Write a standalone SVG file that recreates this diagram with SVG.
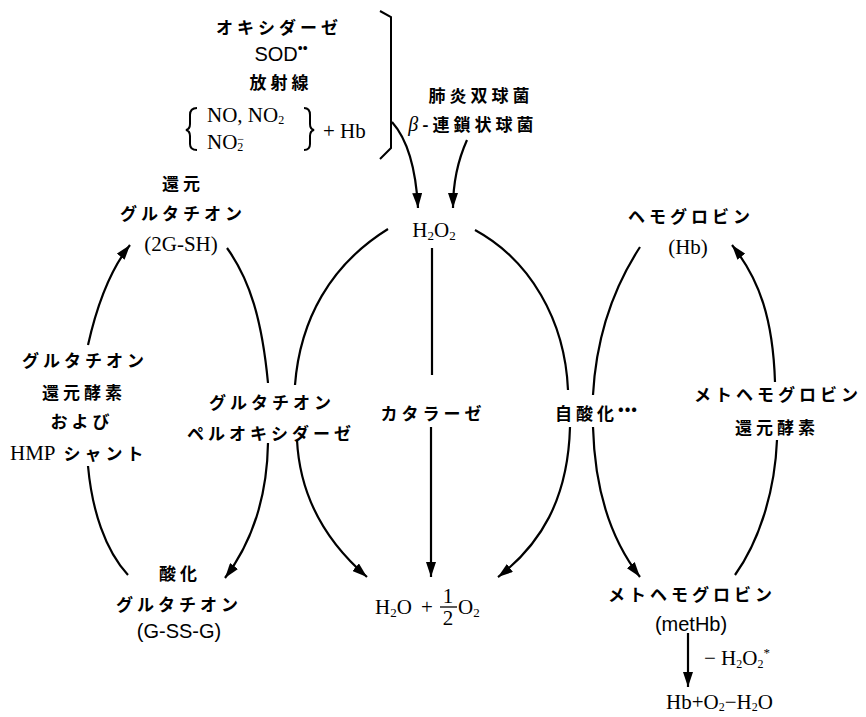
<svg xmlns="http://www.w3.org/2000/svg" width="866" height="717" viewBox="0 0 866 717">
<style>
.j{font-family:"Noto Sans CJK JP","Noto Sans CJK SC",sans-serif;font-size:17px;font-weight:700;letter-spacing:4px;text-anchor:middle;fill:#000}
.f{font-family:"Liberation Serif",serif;font-size:21px;text-anchor:middle;fill:#000}
.s{font-family:"Liberation Sans",sans-serif;font-size:20px;text-anchor:middle;fill:#000}
.c{fill:none;stroke:#000;stroke-width:2.2}
.b{fill:none;stroke:#000;stroke-width:2}
</style>
<defs>
<marker id="ah" markerUnits="userSpaceOnUse" viewBox="0 0 15 10" refX="15" refY="5" markerWidth="15" markerHeight="10" orient="auto">
<path d="M0,0 L15,5 L0,10 Z" fill="#000"/>
</marker>
</defs>
<rect width="866" height="717" fill="#fff"/>

<g id="sources">
<text class="j" x="279" y="34">オキシダーゼ</text>
<text class="s" x="281" y="61" font-size="21">SOD<tspan font-size="14" dy="-8">••</tspan></text>
<text class="j" x="281" y="89">放射線</text>
<path class="b" d="M197,108 Q190,108 190,115 L190,124 Q190,129 186,130 Q190,131 190,136 L190,144 Q190,150 197,150"/>
<text class="f" x="207" y="122" font-size="19" style="text-anchor:start">NO, NO<tspan font-size="12" dy="2">2</tspan></text>
<text class="f" x="207" y="149" font-size="19" style="text-anchor:start">NO<tspan font-size="12" dy="2">2</tspan><tspan font-size="12" dx="-6" dy="-8">−</tspan></text>
<path class="b" d="M304,108 Q310,108 310,115 L310,124 Q310,129 314,130 Q310,131 310,136 L310,144 Q310,150 304,150"/>
<text class="f" x="323" y="138" style="text-anchor:start">+ Hb</text>
<path class="b" d="M380,11 L391,17 L391,148 L380,159"/>
</g>

<g id="bacteria">
<text class="j" x="481" y="102">肺炎双球菌</text>
<text class="j" x="473" y="131"><tspan font-family="Liberation Serif" font-style="italic" font-weight="400" font-size="20">β</tspan>-連鎖状球菌</text>
</g>

<g id="h2o2">
<text class="f" x="434" y="237">H<tspan font-size="13" dy="3">2</tspan><tspan dy="-3">O</tspan><tspan font-size="13" dy="3">2</tspan></text>
</g>

<g id="gsh">
<text class="j" x="183" y="190">還元</text>
<text class="j" x="183" y="220">グルタチオン</text>
<text class="f" x="181" y="251">(2G-SH)</text>
</g>

<g id="gr">
<text class="j" x="85" y="367">グルタチオン</text>
<text class="j" x="84" y="399">還元酵素</text>
<text class="j" x="82" y="428">および</text>
<text class="j" x="10" y="460" style="text-anchor:start"><tspan font-family="Liberation Serif" font-weight="400" font-size="21" letter-spacing="0">HMP</tspan> シャント</text>
</g>

<g id="gssg">
<text class="j" x="180" y="580">酸化</text>
<text class="j" x="179" y="611">グルタチオン</text>
<text class="s" x="179" y="638">(G-SS-G)</text>
</g>

<g id="gpx">
<text class="j" x="272" y="409">グルタチオン</text>
<text class="j" x="271" y="440">ペルオキシダーゼ</text>
</g>

<g id="catalase">
<text class="j" x="433" y="420">カタラーゼ</text>
</g>

<g id="autoox">
<text class="j" x="555" y="420" style="text-anchor:start">自酸化<tspan font-size="15" dy="-6" letter-spacing="1">•••</tspan></text>
</g>

<g id="water">
<text class="f" x="375" y="614" style="text-anchor:start">H<tspan font-size="13" dy="3">2</tspan><tspan dy="-3">O</tspan></text>
<text class="f" x="427" y="614">+</text>
<text class="f" x="448" y="603" font-size="14">1</text>
<line x1="440" y1="607" x2="457" y2="607" stroke="#000" stroke-width="1.3"/>
<text class="f" x="448" y="625" font-size="14">2</text>
<text class="f" x="458" y="614" style="text-anchor:start">O<tspan font-size="13" dy="3">2</tspan></text>
</g>

<g id="hb">
<text class="j" x="691" y="223">ヘモグロビン</text>
<text class="f" x="688" y="254">(Hb)</text>
</g>

<g id="metreductase">
<text class="j" x="778" y="401">メトヘモグロビン</text>
<text class="j" x="777" y="434">還元酵素</text>
</g>

<g id="methb">
<text class="j" x="692" y="601">メトヘモグロビン</text>
<text class="s" x="691" y="631">(metHb)</text>
</g>

<g id="product">
<text class="f" x="704" y="665" font-size="19" style="text-anchor:start">− H<tspan font-size="12" dy="3">2</tspan><tspan dy="-3">O</tspan><tspan font-size="12" dy="3">2</tspan><tspan font-size="13" dy="-11">*</tspan></text>
<text class="f" x="666" y="709" font-size="19" style="text-anchor:start">Hb+O<tspan font-size="12" dy="2">2</tspan><tspan dy="-2">−H</tspan><tspan font-size="12" dy="2">2</tspan><tspan dy="-2">O</tspan></text>
</g>

<g id="connectors">
<path class="c" d="M392,122 C408,140 416,170 418,208" marker-end="url(#ah)"/>
<path class="c" d="M467,140 C458,160 453,185 453,208" marker-end="url(#ah)"/>
<path class="c" d="M88,345 C97,305 110,270 130,245" marker-end="url(#ah)"/>
<path class="c" d="M88,466 C92,510 105,550 128,575"/>
<path class="c" d="M227,248 C250,280 262,320 268,383"/>
<path class="c" d="M268,443 C267,500 250,545 225,578" marker-end="url(#ah)"/>
<path class="c" d="M388,229 C330,265 300,320 295,385"/>
<path class="c" d="M297,440 C300,500 330,545 367,577" marker-end="url(#ah)"/>
<path class="c" d="M432,248 L432,375"/>
<path class="c" d="M431,427 L431,577" marker-end="url(#ah)"/>
<path class="c" d="M475,230 C530,260 565,320 568,390"/>
<path class="c" d="M570,427 C568,500 540,545 498,577" marker-end="url(#ah)"/>
<path class="c" d="M640,247 C612,290 596,340 593,395"/>
<path class="c" d="M593,427 C595,500 615,545 640,577" marker-end="url(#ah)"/>
<path class="c" d="M735,575 C760,540 775,490 777,440"/>
<path class="c" d="M775,382 C773,320 760,280 732,245" marker-end="url(#ah)"/>
<path class="c" d="M688,633 L688,687" marker-end="url(#ah)"/>
</g>
</svg>
